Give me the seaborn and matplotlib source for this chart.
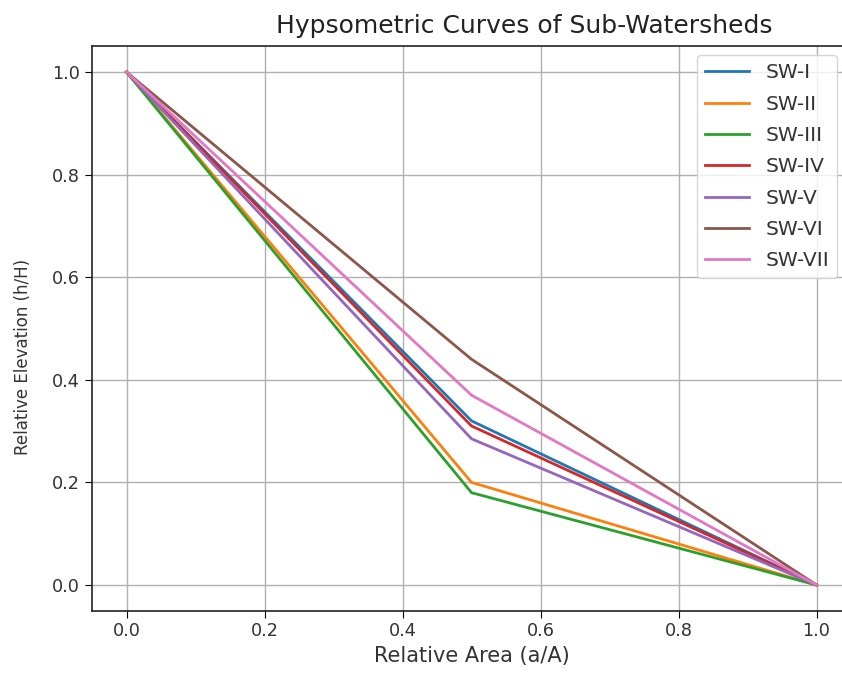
import matplotlib
matplotlib.use("Agg")
import matplotlib.pyplot as plt
import seaborn as sns
import pandas as pd

rel_area = [0.0, 0.5, 1.0]
sw_names = ["SW-I", "SW-II", "SW-III", "SW-IV", "SW-V", "SW-VI", "SW-VII"]
sw_i = [1.0, 0.32, 0.0]
sw_ii = [1.0, 0.20, 0.0]
sw_iii = [1.0, 0.18, 0.0]
sw_iv = [1.0, 0.31, 0.0]
sw_v = [1.0, 0.285, 0.0]
sw_vi = [1.0, 0.44, 0.0]
sw_vii = [1.0, 0.37, 0.0]

series = [sw_i, sw_ii, sw_iii, sw_iv, sw_v, sw_vi, sw_vii]
rows = []
for name, vals in zip(sw_names, series):
    for a, h in zip(rel_area, vals):
        rows.append({"Relative Area": a, "Relative Elevation": h, "Sub-Watershed": name})
df = pd.DataFrame(rows)

fig = plt.figure(figsize=(8.42, 6.77), dpi=100)
ax = fig.add_axes([0.1093, 0.098, 0.9014, 0.8335])
palette = sns.color_palette("tab10", 7)
sns.lineplot(data=df, x="Relative Area", y="Relative Elevation", hue="Sub-Watershed",
             hue_order=sw_names, palette=palette, ax=ax, linewidth=2.0, sort=False)
ax.grid(True, color="#b0b0b0", linewidth=1.0)
for sp in ax.spines.values():
    sp.set_visible(True)
    sp.set_color("#222222")
    sp.set_linewidth(1.2)
ax.set_xlabel("Relative Area (a/A)", fontsize=15, color="#333333")
ax.set_ylabel("Relative Elevation (h/H)", fontsize=12, color="#333333")
ax.yaxis.set_label_coords(-0.079, 0.45)
ax.set_title("Hypsometric Curves of Sub-Watersheds", fontsize=18, x=0.569, pad=9.4,
             color="#222222")
ax.tick_params(labelsize=12.7, labelcolor="#333333", length=5)
ax.set_xticks([0.0, 0.2, 0.4, 0.6, 0.8, 1.0])
ax.set_yticks([0.0, 0.2, 0.4, 0.6, 0.8, 1.0])
ax.set_xlim(-0.05, 1.05)
ax.set_ylim(-0.05, 1.05)
leg = ax.legend(loc="upper left", bbox_to_anchor=(0.797, 0.984), borderaxespad=0,
                fontsize=14.5, labelspacing=0.61, handlelength=2.2, title=None,
                labelcolor="#333333")
fig.savefig("out.png", dpi=100)
